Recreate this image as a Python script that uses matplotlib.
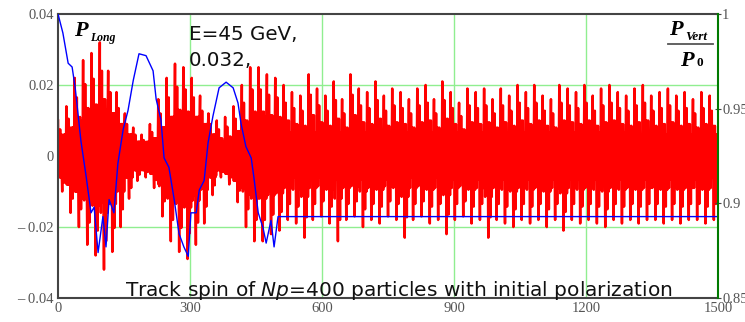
import numpy as np
import matplotlib.pyplot as plt

# blue: P_vert / P0 (right axis)
blue_x = [0, 11, 23, 32, 39, 46, 52, 64, 75, 82, 91, 102, 109, 116, 127, 136, 148, 159,
          171, 184, 200, 216, 223, 234, 241, 252, 264, 275, 286, 296, 302, 314, 321, 332,
          341, 352, 366, 382, 398, 409, 416, 427, 439, 445, 455, 466, 473, 484, 491, 500,
          511, 1500]
blue_y = [1.0, 0.990, 0.974, 0.972, 0.961, 0.946, 0.933, 0.914, 0.895, 0.898, 0.874,
          0.893, 0.877, 0.902, 0.895, 0.921, 0.939, 0.949, 0.965, 0.979, 0.978, 0.970,
          0.955, 0.944, 0.924, 0.919, 0.902, 0.884, 0.877, 0.872, 0.895, 0.895, 0.907,
          0.912, 0.932, 0.946, 0.961, 0.964, 0.961, 0.953, 0.942, 0.930, 0.924, 0.914,
          0.895, 0.887, 0.879, 0.891, 0.877, 0.893, 0.893, 0.893]

# red: P_long (left axis), read per oscillation spike
red_top = [0.010, 0.014, 0.022, 0.027, 0.029, 0.032, 0.024, 0.018, 0.012, 0.008, 0.006,
           0.009, 0.016, 0.022, 0.026, 0.025, 0.022, 0.017, 0.012, 0.010, 0.011, 0.014,
           0.020, 0.025, 0.025, 0.023, 0.022,
           0.020, 0.018, 0.017, 0.023, 0.019, 0.017, 0.021, 0.016, 0.023, 0.019, 0.018,
           0.021, 0.017, 0.019, 0.018, 0.016, 0.019, 0.020, 0.016, 0.021, 0.018, 0.015,
           0.019, 0.018, 0.019, 0.016, 0.019, 0.017, 0.020, 0.018, 0.020, 0.017, 0.016,
           0.020, 0.019, 0.018, 0.020, 0.017, 0.019, 0.020, 0.018, 0.017, 0.019, 0.020,
           0.017, 0.018, 0.019, 0.017, 0.018, 0.016, 0.018, 0.017]
red_bot = [-0.010, -0.016, -0.020, -0.025, -0.028, -0.032, -0.027, -0.020, -0.012, -0.007,
           -0.006, -0.009, -0.017, -0.024, -0.027, -0.029, -0.025, -0.019, -0.011, -0.006,
           -0.008, -0.013, -0.020, -0.024, -0.024, -0.022, -0.021,
           -0.018, -0.019, -0.023, -0.018, -0.017, -0.019, -0.024, -0.018, -0.017, -0.020,
           -0.018, -0.019, -0.017, -0.018, -0.023, -0.018, -0.017, -0.019, -0.018, -0.022,
           -0.018, -0.017, -0.019, -0.018, -0.023, -0.018, -0.019, -0.020, -0.018, -0.019,
           -0.018, -0.020, -0.018, -0.021, -0.018, -0.019, -0.018, -0.019, -0.020, -0.018,
           -0.019, -0.018, -0.019, -0.018, -0.018, -0.019, -0.018, -0.019, -0.018, -0.018,
           -0.019, -0.018]
red_core = [0.006, 0.008, 0.010, 0.012, 0.013, 0.013, 0.012, 0.009, 0.006, 0.004, 0.004,
            0.005, 0.008, 0.011, 0.012, 0.012, 0.011, 0.009, 0.006, 0.004, 0.005, 0.007,
            0.009, 0.011, 0.011, 0.010, 0.010,
            0.0065, 0.006, 0.0065, 0.0065, 0.006, 0.0065, 0.0065, 0.006, 0.0065, 0.0065,
            0.006, 0.0065, 0.0065, 0.006, 0.0065, 0.006, 0.0065, 0.0065, 0.006, 0.0065,
            0.0065, 0.006, 0.0065, 0.0065, 0.006, 0.0065, 0.0065, 0.006, 0.0065, 0.0065,
            0.006, 0.0065, 0.0065, 0.006, 0.0065, 0.0065, 0.006, 0.0065, 0.0065, 0.006,
            0.0065, 0.0065, 0.006, 0.0065, 0.0065, 0.006, 0.0065, 0.0065, 0.006, 0.0065,
            0.0065, 0.006]

x_ticks = [0, 300, 600, 900, 1200, 1500]
left_ticks = [-0.04, -0.02, 0, 0.02, 0.04]
left_labels = ['\u2013 0.04', '\u2013 0.02', '0', '0.02', '0.04']
right_ticks = [0.85, 0.9, 0.95, 1.0]
right_labels = ['0.85', '0.9', '0.95', '1']

# build red trace: per spike a big top and bottom plus two smaller side spikes,
# with a fast wiggle of core amplitude in between so the middle fills in
n = len(red_top)
edges = np.linspace(0, 1500, n + 1)
rx, ry = [], []
for i in range(n):
    t, b, c = red_top[i], red_bot[i], red_core[i]
    vals = [t, -c, c, 0.5 * b, c, -c, 0.75 * t, -c, c, -c, 0.5 * t, -c,
            b, c, -c, 0.5 * t, -c, c, 0.75 * b, c, -c, c, 0.5 * b, c]
    xs = np.linspace(edges[i], edges[i + 1], len(vals), endpoint=False)
    rx.extend(xs)
    ry.extend(vals)

serif = 'Liberation Serif'
tick_col = '#555555'

fig = plt.figure(figsize=(7.45, 3.22), dpi=100)
ax = fig.add_axes([0.0779, 0.0745, 0.8859, 0.882])
ax.plot(rx, ry, color='#ff0000', lw=1.8, zorder=2)
ax.set_xlim(0, 1500)
ax.set_ylim(-0.04, 0.04)
ax.set_xticks(x_ticks)
ax.set_xticklabels([str(t) for t in x_ticks], fontfamily=serif, fontsize=10.5, color=tick_col)
ax.set_yticks(left_ticks)
ax.set_yticklabels(left_labels, fontfamily=serif, fontsize=10.5, color=tick_col)
ax.tick_params(length=0, pad=3)
for xv in x_ticks[1:-1]:
    ax.axvline(xv, color='#90ee90', lw=1, zorder=1)
for yv in (-0.02, 0.02):
    ax.axhline(yv, color='#90ee90', lw=1, zorder=1)
for s in ('left', 'top', 'bottom'):
    ax.spines[s].set_color('#444444')
    ax.spines[s].set_linewidth(1.5)
ax.spines['right'].set_visible(False)

ax2 = ax.twinx()
ax2.plot(blue_x, blue_y, color='#0000ff', lw=1.0)
ax2.set_ylim(0.85, 1.0)
ax2.set_yticks(right_ticks)
ax2.set_yticklabels(right_labels, fontfamily=serif, fontsize=10.5, color=tick_col)
ax2.tick_params(axis='y', length=4, direction='inout', pad=1, color='#444444')
ax2.spines['right'].set_color('#007a00')
ax2.spines['right'].set_linewidth(1.5)
for s in ('left', 'top', 'bottom'):
    ax2.spines[s].set_visible(False)

# labels
fig.text(0.099, 0.888, 'P', fontfamily=serif, fontsize=16, fontweight='bold',
         fontstyle='italic', color='black')
fig.text(0.121, 0.872, 'Long', fontfamily=serif, fontsize=8.5, fontweight='bold',
         fontstyle='italic', color='black')

fig.text(0.254, 0.875, 'E=45 GeV,', fontsize=14.3, color='#111111')
fig.text(0.254, 0.795, '0.032,', fontsize=14.3, color='#111111')

fig.text(0.168, 0.082, 'Track spin of $Np$=400 particles with initial polarization',
         fontsize=14.5, color='#111111')

# P_Vert / P0 fraction
fig.text(0.898, 0.892, 'P', fontfamily=serif, fontsize=16, fontweight='bold',
         fontstyle='italic', color='black')
fig.text(0.920, 0.877, 'Vert', fontfamily=serif, fontsize=9.5, fontweight='bold',
         fontstyle='italic', color='black')
fig.add_artist(plt.Line2D([0.897, 0.957], [0.863, 0.863], color='#555555', lw=1.3))
fig.text(0.913, 0.795, 'P', fontfamily=serif, fontsize=16, fontweight='bold',
         fontstyle='italic', color='black')
fig.text(0.935, 0.795, '0', fontfamily=serif, fontsize=9.5, fontweight='bold',
         color='black')

fig.savefig('out.png', dpi=100)
